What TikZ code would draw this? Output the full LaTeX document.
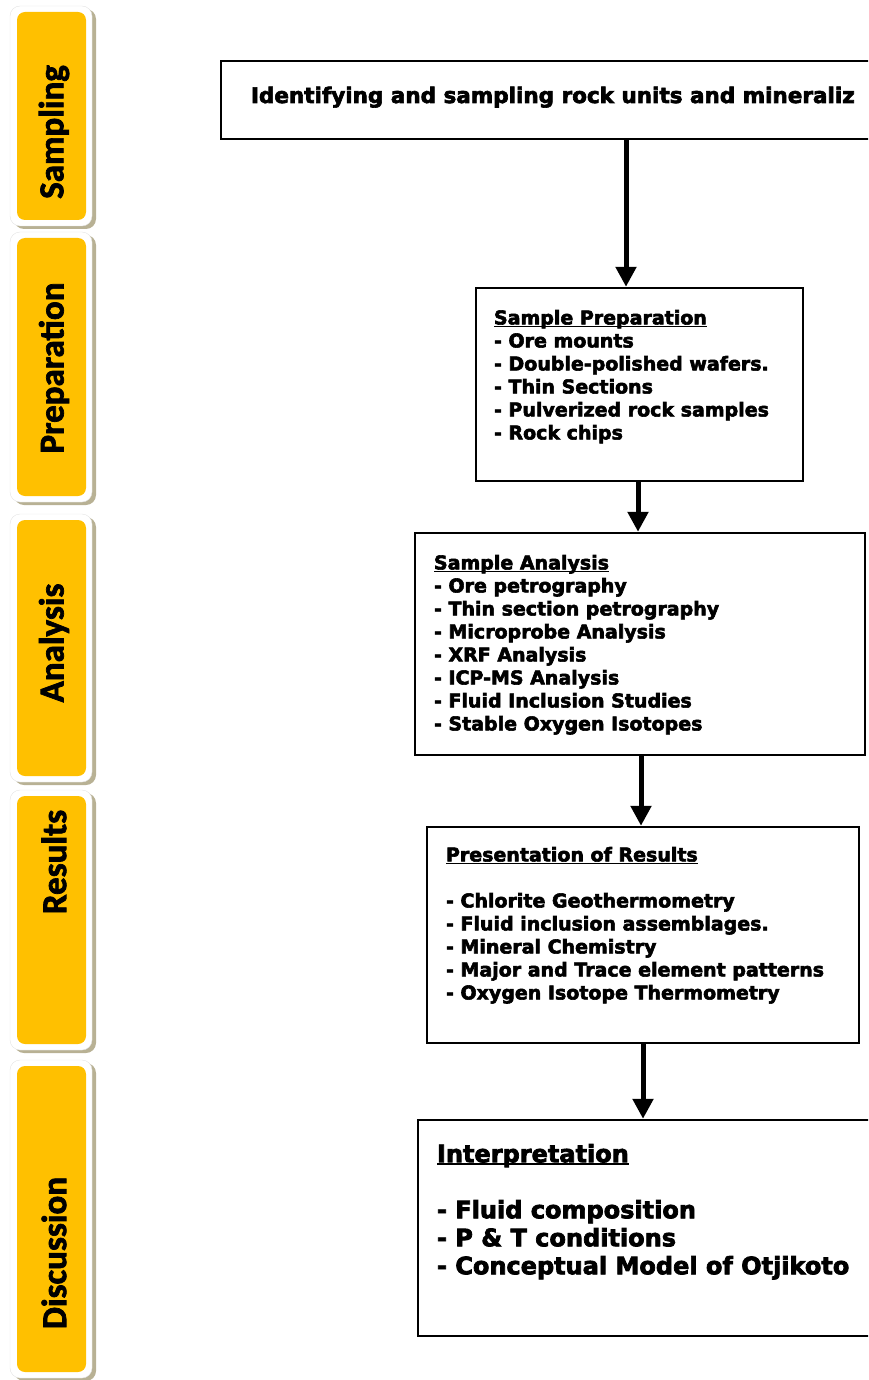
\documentclass[tikz,border=0pt]{standalone}
\usepackage{fontspec}
\usetikzlibrary{arrows.meta,positioning,calc}
\newfontfamily\boxfont{DejaVu Sans}[BoldFeatures={FakeBold=3}]
\newfontfamily\tabfont{Carlito}[BoldFeatures={FakeBold=2}]
\definecolor{tabgold}{HTML}{FFC000}
\definecolor{tabshade}{HTML}{B8B194}
\definecolor{tabrim}{HTML}{E4E4E4}
\newcommand{\headul}[1]{\setbox0\hbox{#1}\rlap{\rule[-2.5pt]{\wd0}{1.3pt}}#1}

\begin{document}
\begin{tikzpicture}[x=1pt,y=-1pt,on grid,
    stagebox/.style={draw,line width=2.4pt,inner sep=0pt},
    listtext/.style={anchor=north west,inner sep=0pt,align=left,font=\boxfont\bfseries\fontsize{19}{23}\selectfont},
    flow/.style={line width=5pt,-{Triangle[length=20pt,width=20pt]}},
    tablabel/.style={rotate=90,font=\tabfont\bfseries\fontsize{35}{40}\selectfont}]
   \useasboundingbox (0,0) rectangle (868,1380);
   \clip (0,0) rectangle (868,1380);

   % stage tabs on the left
   \foreach \name/\ya/\yb/\ylab in {Sampling/6/226/132,Preparation/232/502/368,Analysis/514/782/643,Results/790/1050/862,Discussion/1060/1378/1253}{
      \fill[tabshade,rounded corners=10pt] (14,\ya+3) rectangle (96,\yb+3);
      \filldraw[fill=white,draw=tabrim,rounded corners=10pt] (10,\ya) rectangle (92,\yb);
      \fill[tabgold,rounded corners=8pt] (17,\ya+6) rectangle (86,\yb-6);
      \node[tablabel] (tab\name) at (54,\ylab) {\name};
   }

   \node[stagebox,minimum width=679pt,minimum height=78pt] (ident) at (560.5,100) {};
   \node[stagebox,minimum width=327pt,minimum height=193pt] (prep) [below right=284.5pt and 79pt of ident] {};
   \node[stagebox,minimum width=450pt,minimum height=222pt] (anal) [below right=259.5pt and 0.5pt of prep] {};
   \node[stagebox,minimum width=432pt,minimum height=216pt] (res) [below right=291pt and 3pt of anal] {};
   \node[stagebox,minimum width=462pt,minimum height=216pt] (interp) [below right=293pt and 6pt of res] {};

   \node[anchor=base west,inner sep=0pt,font=\boxfont\bfseries\fontsize{21.5}{26}\selectfont] (identtext)
      at ([shift={(31pt,-3pt)}]ident.west) {Identifying and sampling rock units and mineraliz};
   \node[listtext] (preptext) at ([shift={(19pt,-23pt)}]prep.north west)
      {\headul{Sample Preparation}\\- Ore mounts\\- Double-polished wafers.\\- Thin Sections\\- Pulverized rock samples\\- Rock chips};
   \node[listtext] (analtext) at ([shift={(20pt,-23pt)}]anal.north west)
      {\headul{Sample Analysis}\\- Ore petrography\\- Thin section petrography\\- Microprobe Analysis\\- XRF Analysis\\- ICP-MS Analysis\\- Fluid Inclusion Studies\\- Stable Oxygen Isotopes};
   \node[listtext] (restext) at ([shift={(20pt,-21pt)}]res.north west)
      {\headul{Presentation of Results}\\[23pt]- Chlorite Geothermometry\\- Fluid inclusion assemblages.\\- Mineral Chemistry\\- Major and Trace element patterns\\- Oxygen Isotope Thermometry};
   \node[listtext,font=\boxfont\bfseries\fontsize{24}{28}\selectfont] (interptext) at ([shift={(20pt,-25pt)}]interp.north west)
      {\headul{Interpretation}\\[28pt]- Fluid composition\\- P \& T conditions\\- Conceptual Model of Otjikoto};

   \draw[flow] ([xshift=-13.5pt]prep.north |- ident.south) -- ([xshift=-13.5pt]prep.north);
   \draw[flow] ([xshift=-1.5pt]prep.south) -- ([xshift=-1.5pt]prep.south |- anal.north);
   \draw[flow] ([xshift=1pt]anal.south) -- ([xshift=1pt]anal.south |- res.north);
   \draw[flow] (res.south) -- (res.south |- interp.north);
\end{tikzpicture}
\end{document}
